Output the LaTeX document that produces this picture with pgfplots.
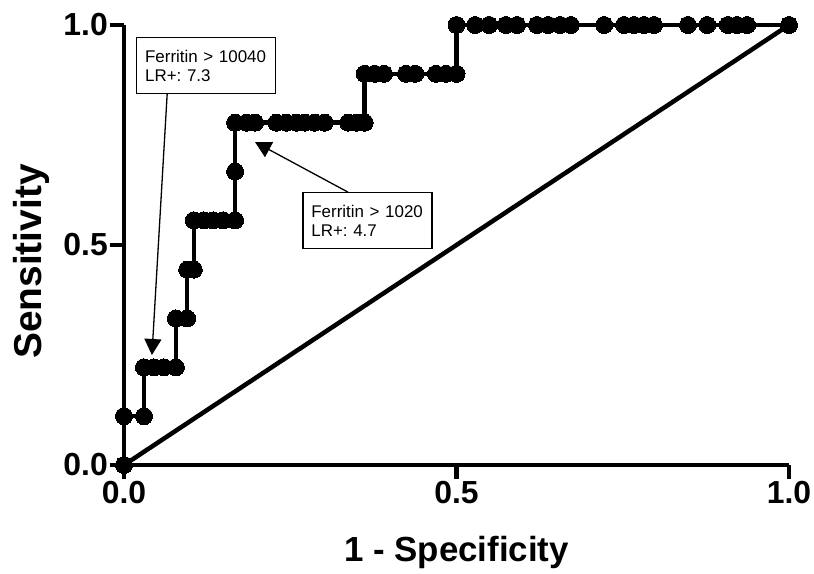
\documentclass[border=0pt]{standalone}
\usepackage{pgfplots}
\pgfplotsset{compat=1.18}
\usepackage{fontspec}
\setmainfont{Liberation Sans}
\usetikzlibrary{arrows.meta}
\frenchspacing

\begin{document}
\begin{tikzpicture}
\begin{axis}[
  scale only axis, width=665bp, height=440bp,
  xmin=0, xmax=1, ymin=0, ymax=1,
  axis x line=bottom, axis y line=left,
  axis line style={-, line width=4.5bp, black},
  xtick={0,0.5,1}, ytick={0,0.5,1},
  xticklabels={0.0,0.5,1.0}, yticklabels={0.0,0.5,1.0},
  tick style={line width=4.5bp, black},
  major tick length=14bp,
  tick align=outside,
  ticklabel style={font=\fontsize{32}{34}\selectfont\bfseries},
  xticklabel style={inner ysep=2bp},
  yticklabel style={inner xsep=2bp},
  xlabel={1 - Specificity}, ylabel={Sensitivity},
  xlabel style={font=\fontsize{35}{37}\selectfont\bfseries, inner sep=0pt,
    at={(axis description cs:0.5,0)}, anchor=north, yshift=-71bp},
  ylabel style={font=\fontsize{39}{41}\selectfont\bfseries, inner sep=0pt,
    at={(axis description cs:-0.1669,0.4625)}, anchor=north},
  clip=false,
]
\addplot[black, line width=4.5bp, no marks] coordinates {(0,0) (1,1)};
\addplot[black, line width=4.5bp, mark=*, mark size=8.5bp,
  mark options={line width=0pt, fill=black}] coordinates {
(0,0) (0,0.111) (0.03,0.111) (0.03,0.222) (0.045,0.222) (0.06,0.222) (0.078,0.222)
(0.078,0.333) (0.095,0.333) (0.095,0.444) (0.105,0.444) (0.105,0.556)
(0.12,0.556) (0.134,0.556) (0.149,0.556) (0.167,0.556) (0.167,0.667) (0.167,0.778)
(0.184,0.778) (0.197,0.778) (0.229,0.778) (0.244,0.778) (0.259,0.778) (0.272,0.778)
(0.287,0.778) (0.302,0.778) (0.337,0.778) (0.35,0.778) (0.362,0.778)
(0.362,0.889) (0.377,0.889) (0.391,0.889) (0.424,0.889) (0.438,0.889)
(0.469,0.889) (0.484,0.889) (0.5,0.889)
(0.5,1) (0.528,1) (0.549,1) (0.574,1) (0.591,1) (0.621,1) (0.638,1) (0.656,1)
(0.672,1) (0.722,1) (0.752,1) (0.767,1) (0.782,1) (0.797,1) (0.848,1) (0.877,1)
(0.908,1) (0.922,1) (0.937,1) (1,1)
};
\node[draw, line width=1.3bp, anchor=north west, align=left, text width=122bp,
  inner xsep=8.5bp, minimum height=56bp, fill=white,
  font=\fontsize{17}{19}\selectfont] at (axis cs:0.018,0.973)
  {Ferritin > 10040\\LR+: 7.3};
\node[draw, line width=1.3bp, anchor=north west, align=left, text width=112bp,
  inner xsep=8.5bp, minimum height=56bp, fill=white,
  font=\fontsize{17}{19}\selectfont] at (axis cs:0.268,0.620)
  {Ferritin > 1020\\LR+: 4.7};
\draw[line width=1.3bp, -{Triangle[length=16bp, width=17bp]}]
  (axis cs:0.065,0.845) -- (axis cs:0.042,0.25);
\draw[line width=1.3bp, -{Triangle[length=16bp, width=17bp]}]
  (axis cs:0.337,0.620) -- (axis cs:0.197,0.734);
\end{axis}
\pgfresetboundingbox
\path[use as bounding box] ([shift={(-124bp,-109bp)}]current axis.south west)
  rectangle ([shift={(25bp,25bp)}]current axis.north east);
\end{tikzpicture}
\end{document}
